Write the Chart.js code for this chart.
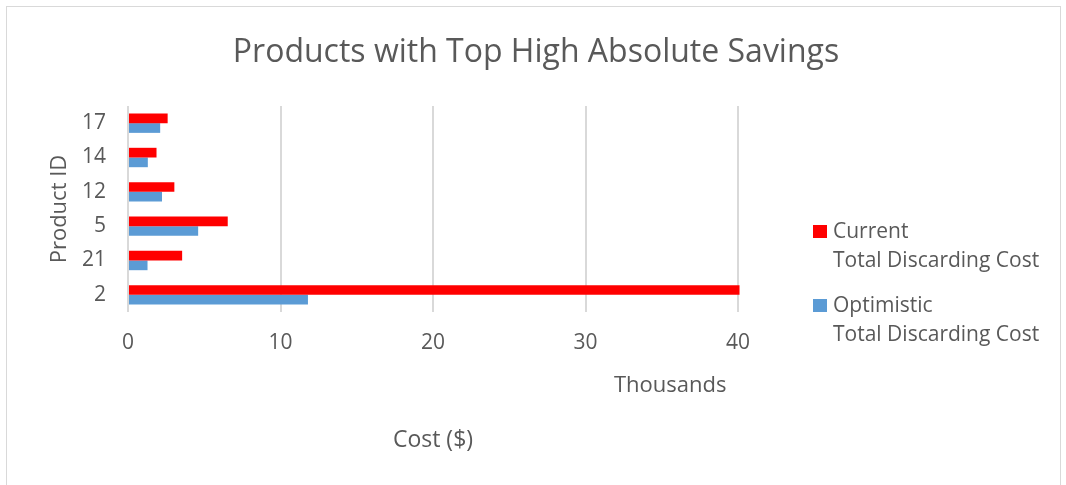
<!DOCTYPE html>
<html>
<head>
<meta charset="utf-8">
<script src="https://cdn.jsdelivr.net/npm/chart.js@4.4.1/dist/chart.umd.min.js"></script>
<style>
  html, body { margin: 0; padding: 0; background: #fff; overflow: hidden; }
  #wrap { position: relative; width: 1066px; height: 485px; }
  #frame {
    position: absolute; left: 6px; top: 6px; width: 1053px; height: 520px;
    border: 1px solid #d9d9d9; pointer-events: none;
  }
</style>
</head>
<body>
<div id="wrap">
  <canvas id="savingsChart" width="1066" height="485"></canvas>
  <div id="frame"></div>
</div>
<script>
// Product IDs, top to bottom
const productIds = ['17', '14', '12', '5', '21', '2'];

// Discarding cost in thousands of dollars
const currentCost = [2.6, 1.87, 3.04, 6.54, 3.55, 40.1];
const optimisticCost = [2.11, 1.3, 2.23, 4.6, 1.28, 11.8];

const xTicks = [0, 10, 20, 30, 40];

const FONT = '"Open Sans", sans-serif';
const TEXT = '#595959';
const GRID = '#d9d9d9';

// Title, "Thousands" unit label and the two-line legend
const decorations = {
  id: 'decorations',
  afterDraw(chart) {
    const ctx = chart.ctx;
    ctx.save();
    ctx.fillStyle = TEXT;
    ctx.textBaseline = 'alphabetic';

    ctx.font = '32px ' + FONT;
    ctx.textAlign = 'center';
    ctx.fillText('Products with Top High Absolute Savings', 536, 62);

    ctx.font = '22px ' + FONT;
    ctx.textAlign = 'left';
    ctx.fillText('Thousands', 614, 392);

    ctx.font = '21px ' + FONT;
    const rows = [238, 312];
    chart.data.datasets.forEach((ds, i) => {
      const y = rows[i];
      ctx.fillStyle = ds.backgroundColor;
      ctx.fillRect(813, y - 13, 14, 13);
      ctx.fillStyle = TEXT;
      ds.label.forEach((line, j) => ctx.fillText(line, 833, y + j * 29));
    });
    ctx.restore();
  }
};

new Chart(document.getElementById('savingsChart'), {
  type: 'bar',
  data: {
    labels: productIds,
    datasets: [
      {
        label: ['Current', 'Total Discarding Cost'],
        data: currentCost,
        backgroundColor: '#ff0000',
        clip: false
      },
      {
        label: ['Optimistic', 'Total Discarding Cost'],
        data: optimisticCost,
        backgroundColor: '#5b9bd5'
      }
    ]
  },
  options: {
    indexAxis: 'y',
    responsive: false,
    animation: false,
    categoryPercentage: 0.565,
    barPercentage: 1,
    layout: { padding: { left: 0, right: 328, top: 106, bottom: 0 } },
    plugins: {
      legend: { display: false },
      title: { display: false },
      tooltip: { enabled: false }
    },
    scales: {
      x: {
        min: 0,
        max: 40,
        afterBuildTicks: axis => { axis.ticks = xTicks.map(v => ({ value: v })); },
        afterFit: axis => { axis.height = 173; },
        grid: { color: GRID, lineWidth: 2, drawTicks: false },
        border: { display: false },
        ticks: { color: TEXT, font: { family: FONT, size: 21 }, padding: 18 },
        title: {
          display: true,
          text: 'Cost ($)',
          color: TEXT,
          font: { family: FONT, size: 23 },
          padding: { bottom: 31 }
        }
      },
      y: {
        afterFit: axis => { axis.width = 128; },
        grid: { display: false, drawTicks: false },
        border: { display: false },
        ticks: { color: TEXT, font: { family: FONT, size: 21 }, padding: 22 },
        title: {
          display: true,
          text: 'Product ID',
          color: TEXT,
          font: { family: FONT, size: 22 },
          padding: { top: 47 }
        }
      }
    }
  },
  plugins: [decorations]
});
</script>
</body>
</html>
